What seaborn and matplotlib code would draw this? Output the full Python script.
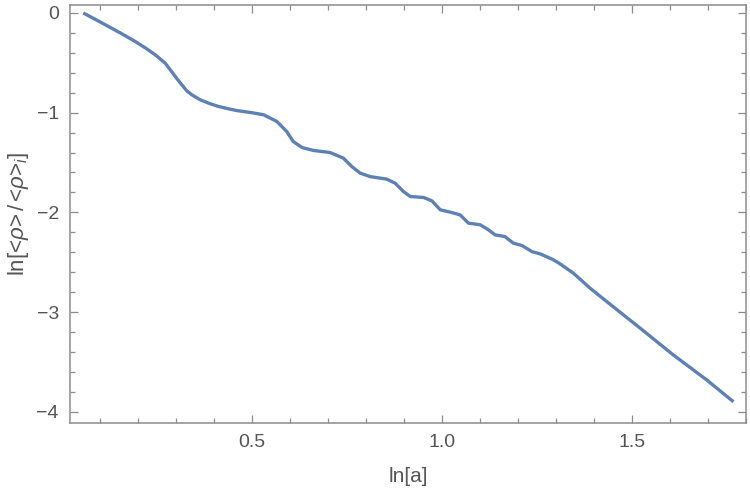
import numpy as np
import pandas as pd
import matplotlib
matplotlib.use('Agg')
import matplotlib.pyplot as plt
from matplotlib.ticker import MultipleLocator
import seaborn as sns

# values
ln_a = [0.057, 0.090, 0.123, 0.158, 0.193, 0.220, 0.246, 0.272, 0.289, 0.302,
        0.316, 0.329, 0.342, 0.364, 0.386, 0.410, 0.438, 0.462, 0.496, 0.531,
        0.566, 0.592, 0.609, 0.632, 0.662, 0.706, 0.741, 0.763, 0.785, 0.811,
        0.855, 0.877, 0.899, 0.917, 0.952, 0.974, 0.996, 1.022, 1.048, 1.070,
        1.101, 1.123, 1.140, 1.166, 1.188, 1.211, 1.237, 1.259, 1.294, 1.311,
        1.346, 1.390, 1.434, 1.522, 1.609, 1.697, 1.767]
ln_rho = [0.0, -0.067, -0.135, -0.208, -0.285, -0.350, -0.419, -0.502, -0.586, -0.653,
          -0.720, -0.780, -0.820, -0.870, -0.904, -0.935, -0.961, -0.980, -0.998, -1.021,
          -1.088, -1.189, -1.289, -1.349, -1.379, -1.400, -1.456, -1.540, -1.606, -1.641,
          -1.667, -1.707, -1.791, -1.841, -1.851, -1.885, -1.975, -1.998, -2.025, -2.108,
          -2.125, -2.176, -2.226, -2.243, -2.309, -2.333, -2.394, -2.417, -2.477, -2.517,
          -2.610, -2.761, -2.896, -3.163, -3.431, -3.682, -3.900]
x_ticks = [0.5, 1.0, 1.5]
y_ticks = [0, -1, -2, -3, -4]

df = pd.DataFrame({'ln_a': ln_a, 'ln_rho': ln_rho})

sns.set_style('ticks')
plt.rcParams['font.family'] = ['Liberation Sans', 'DejaVu Sans']
plt.rcParams['mathtext.fontset'] = 'custom'
plt.rcParams['mathtext.rm'] = 'Liberation Sans'
plt.rcParams['mathtext.it'] = 'Liberation Sans:italic'

fig = plt.figure(figsize=(7.5, 4.98), dpi=100)
ax = fig.add_axes([0.0933, 0.1512, 0.9014, 0.8394])

sns.lineplot(data=df, x='ln_a', y='ln_rho', ax=ax, color='#5E81B5', linewidth=2.4,
             solid_joinstyle='round', solid_capstyle='butt')

ax.set_xlim(0.022, 1.80)
ax.set_ylim(-4.11, 0.083)
ax.set_xticks(x_ticks)
ax.set_xticklabels(['0.5', '1.0', '1.5'])
ax.set_yticks(y_ticks)
ax.set_yticklabels(['0', '\u22121', '\u22122', '\u22123', '\u22124'])
ax.xaxis.set_minor_locator(MultipleLocator(0.1))
ax.yaxis.set_minor_locator(MultipleLocator(0.2))

frame = '#8c8c8c'
for s in ax.spines.values():
    s.set_color(frame)
    s.set_linewidth(1.1)
ax.tick_params(which='both', direction='in', top=True, right=True, color=frame,
               width=0.9, labelsize=14, labelcolor='#555555')
ax.tick_params(which='major', length=6, pad=8)
ax.tick_params(which='minor', length=3.6)

ax.set_xlabel('ln[a]', fontsize=15, color='#555555', labelpad=12)
ax.set_ylabel(r'ln[<$\it{\rho}$>$\,$/$\,$<$\it{\rho}$>$_{\it{i}}$]', fontsize=16,
              color='#555555', labelpad=4)

fig.savefig('out.png', dpi=100)
